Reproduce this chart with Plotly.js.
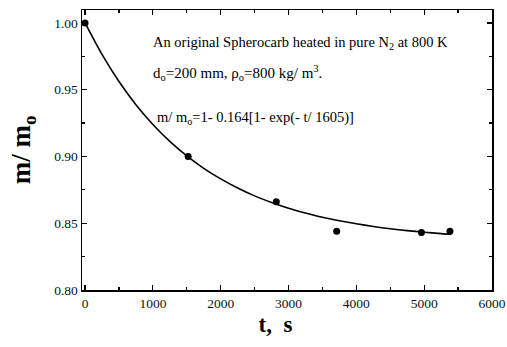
<!DOCTYPE html>
<html>
<head>
<meta charset="utf-8">
<script src="https://cdn.plot.ly/plotly-3.0.1.min.js"></script>
<style>html,body{margin:0;padding:0;background:#fff;}</style>
</head>
<body>
<div id="chart" style="width:507px;height:347px;"></div>
<script>
// Measured data points
var pointT = [0, 1520, 2820, 3710, 4960, 5380];
var pointM = [1.000, 0.900, 0.866, 0.844, 0.843, 0.844];

// Fitted curve
var curveT = [0, 250, 500, 750, 1000, 1250, 1500, 1750, 2000, 2250, 2500, 2750, 3000, 3250, 3500, 3750, 4000, 4250, 4500, 4750, 5000, 5250, 5400];
var curveM = [1.0000, 0.9764, 0.9561, 0.9388, 0.9240, 0.9113, 0.9004, 0.8911, 0.8832, 0.8764, 0.8705, 0.8656, 0.8613, 0.8577, 0.8545, 0.8519, 0.8496, 0.8476, 0.8459, 0.8445, 0.8433, 0.8422, 0.8417];

var xTickVals = [0, 1000, 2000, 3000, 4000, 5000, 6000];
var xTickText = ['0', '1000', '2000', '3000', '4000', '5000', '6000'];
var yTickVals = [0.80, 0.85, 0.90, 0.95, 1.00];
var yTickText = ['0.80', '0.85', '0.90', '0.95', '1.00'];

var serif = 'Liberation Serif, Times New Roman, serif';

var traces = [
  {x: curveT, y: curveM, mode: 'lines', line: {color: '#000', width: 1.6, shape: 'spline', smoothing: 0.8}, hoverinfo: 'skip'},
  {x: pointT, y: pointM, mode: 'markers', marker: {color: '#000', size: 7}, cliponaxis: false}
];

var axisCommon = {
  showgrid: false, zeroline: false, showline: true, linecolor: '#000', linewidth: 1.5,
  mirror: 'ticks', ticks: 'inside', ticklen: 5, tickwidth: 1.2, tickcolor: '#000',
  tickfont: {family: serif, size: 13.5, color: '#111'}
};

var layout = {
  width: 507, height: 347,
  margin: {l: 82, r: 15, t: 10, b: 57},
  paper_bgcolor: '#fff', plot_bgcolor: '#fff',
  showlegend: false,
  xaxis: Object.assign({}, axisCommon, {
    range: [-45, 6000], tickmode: 'array', tickvals: xTickVals, ticktext: xTickText,
    minor: {dtick: 500, ticks: 'inside', ticklen: 3, tickcolor: '#000', showgrid: false},
    title: {text: '<b>t,&nbsp;&nbsp;s</b>&nbsp;&nbsp;&nbsp;&nbsp;', font: {family: serif, size: 23, color: '#000'}, standoff: 6}
  }),
  yaxis: Object.assign({}, axisCommon, {
    range: [0.8, 1.0097], tickmode: 'array', tickvals: yTickVals, ticktext: yTickText,
    minor: {dtick: 0.025, ticks: 'inside', ticklen: 3, tickcolor: '#000', showgrid: false},
    title: {text: '<b>m/ m<sub>o</sub></b>', font: {family: serif, size: 27, color: '#000'}, standoff: 15}
  }),
  annotations: [
    {xref: 'paper', yref: 'paper', x: 0.168, y: 0.882, xanchor: 'left', yanchor: 'middle', showarrow: false,
     text: 'An original Spherocarb heated in pure N<sub>2</sub> at 800 K', font: {family: serif, size: 14.5, color: '#000'}},
    {xref: 'paper', yref: 'paper', x: 0.168, y: 0.775, xanchor: 'left', yanchor: 'middle', showarrow: false,
     text: 'd<sub>o</sub>=200 mm, ρ<sub>o</sub>=800 kg/ m<sup>3</sup>.', font: {family: serif, size: 15, color: '#000'}},
    {xref: 'paper', yref: 'paper', x: 0.178, y: 0.615, xanchor: 'left', yanchor: 'middle', showarrow: false,
     text: 'm/ m<sub>o</sub>=1- 0.164[1- exp(- t/ 1605)]', font: {family: serif, size: 14.5, color: '#000'}}
  ]
};

Plotly.newPlot('chart', traces, layout, {staticPlot: true, displayModeBar: false});
</script>
</body>
</html>
